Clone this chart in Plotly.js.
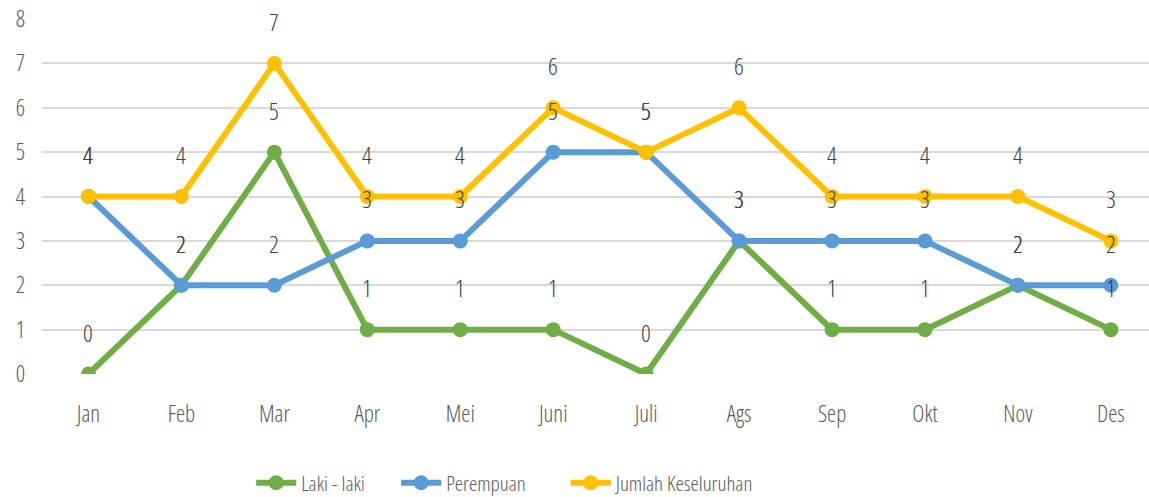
<!DOCTYPE html>
<html>
<head>
<meta charset="utf-8">
<script src="https://cdn.plot.ly/plotly-3.0.1.min.js"></script>
<style>
html,body{margin:0;padding:0;background:#fff;}
#chart{width:1149px;height:497px;}
#chart svg text{font-stretch:75% !important;font-weight:300 !important;}
</style>
</head>
<body>
<div id="chart"></div>
<script>
const months = ["Jan","Feb","Mar","Apr","Mei","Juni","Juli","Ags","Sep","Okt","Nov","Des"];
const lakiLaki = [0,2,5,1,1,1,0,3,1,1,2,1];
const perempuan = [4,2,2,3,3,5,5,3,3,3,2,2];
const jumlah = [4,4,7,4,4,6,5,6,4,4,4,3];
const yTicks = [0,1,2,3,4,5,6,7,8];

const FONT = "'Open Sans', 'DejaVu Sans Condensed', sans-serif";
const TXT = "#595959";

const series = [
  {name: "Laki - laki", y: lakiLaki, color: "#70AD47"},
  {name: "Perempuan", y: perempuan, color: "#5B9BD5"},
  {name: "Jumlah Keseluruhan", y: jumlah, color: "#FFC000"}
];

const traces = series.map(s => ({
  type: "scatter", mode: "lines+markers", name: s.name,
  x: months, y: s.y,
  line: {color: s.color, width: 6},
  marker: {color: s.color, size: 15}
}));

const annotations = [];
series.forEach(s => {
  s.y.forEach((v, i) => {
    annotations.push({
      x: months[i], y: v, xref: "x", yref: "y",
      text: String(v), showarrow: false, yshift: 42,
      xanchor: "center", yanchor: "middle",
      font: {family: FONT, size: 24, color: "#404040"}
    });
  });
});

const layout = {
  width: 1149, height: 497,
  margin: {l: 42, r: 0, t: 19, b: 123},
  paper_bgcolor: "#fff", plot_bgcolor: "#fff",
  showlegend: true,
  font: {family: FONT, size: 23, color: TXT},
  xaxis: {
    type: "category", range: [-0.5, 11.41],
    showgrid: false, zeroline: false, showline: false,
    ticks: "", ticklabelstandoff: 24, automargin: false,
    tickfont: {family: FONT, size: 23, color: TXT}
  },
  yaxis: {
    range: [0, 8], tickvals: yTicks,
    showgrid: true, gridcolor: "#d9d9d9", gridwidth: 2,
    zeroline: false, showline: false, ticks: "", automargin: false,
    ticklabelstandoff: 16,
    tickfont: {family: FONT, size: 23, color: TXT}
  },
  legend: {
    orientation: "h", x: 0.446, xanchor: "center",
    yref: "container", y: 0.028, yanchor: "middle",
    font: {family: FONT, size: 21, color: TXT},
    itemwidth: 40, tracegroupgap: 0
  },
  annotations: annotations
};

Plotly.newPlot("chart", traces, layout, {displayModeBar: false, staticPlot: true});
</script>
</body>
</html>
